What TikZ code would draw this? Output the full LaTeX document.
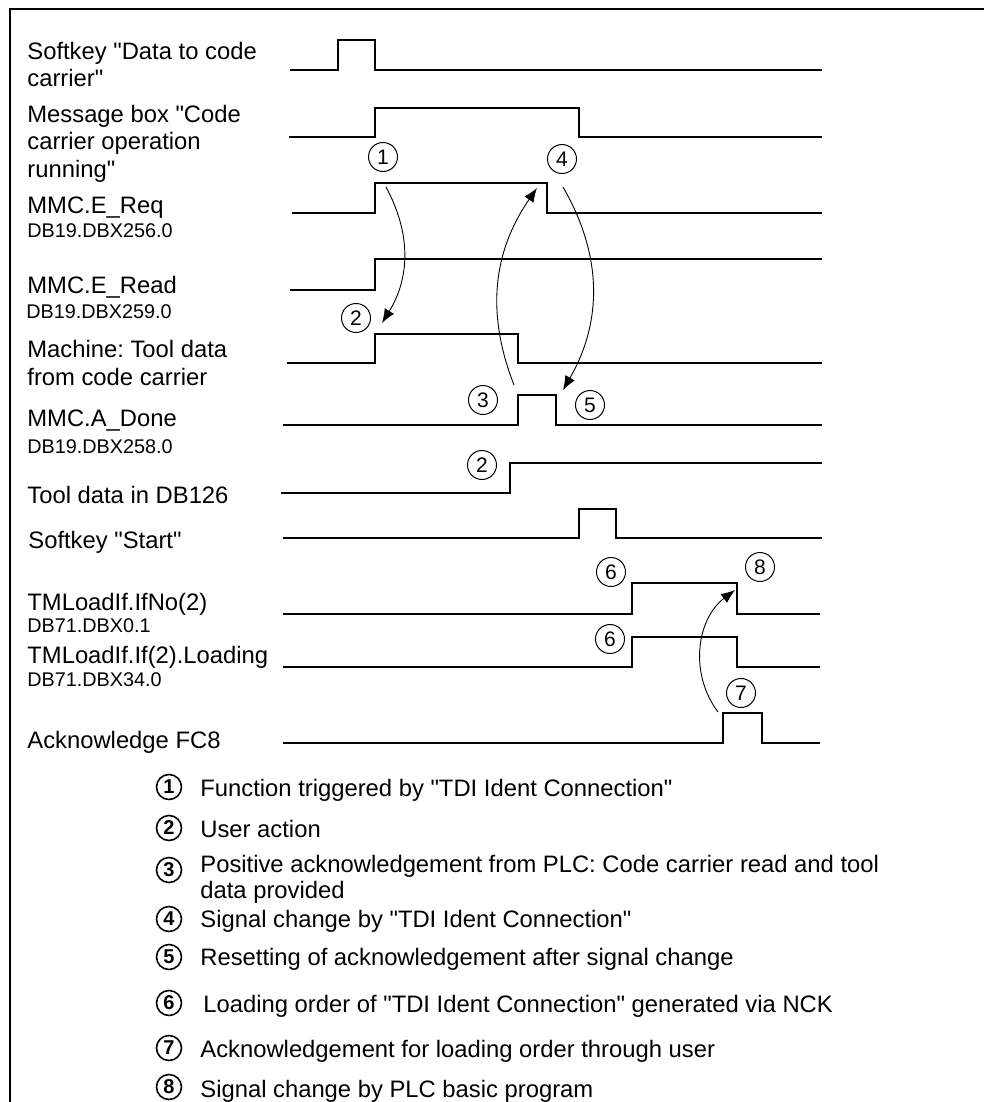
\documentclass[tikz,border=0pt]{standalone}
\usepackage{fontspec}
\newfontfamily\lsans{Liberation Sans}
\usetikzlibrary{arrows.meta}
\frenchspacing

\begin{document}
\begin{tikzpicture}[x=0.5pt,y=-0.5pt,
  sig/.style={line width=1pt,line join=miter},
  arr/.style={line width=0.45pt,-{Latex[length=7pt,width=5.5pt]}},
  lbl/.style={anchor=base west,inner sep=0pt,align=left,font=\lsans\fontsize{11.9}{13.6}\selectfont},
  addr/.style={anchor=base west,inner sep=0pt,font=\lsans\fontsize{9.9}{11}\selectfont},
  num/.style={draw,circle,line width=0.5pt,minimum size=14.5pt,inner sep=0pt,font=\lsans\fontsize{10.5}{11}\selectfont},
  legnum/.style={draw,circle,line width=0.8pt,minimum size=12.5pt,inner sep=0pt,font=\lsans\bfseries\fontsize{10}{11}\selectfont},
  legtxt/.style={anchor=base west,inner sep=0pt,align=left,font=\lsans\fontsize{11.9}{12.8}\selectfont}]
  \useasboundingbox (0,0) rectangle (984,1102);
  \draw[line width=1.3pt] (984,9) -- (10,9) -- (10,1102);

  \node[lbl] (lsoft) at (27,87){Softkey "Data to code\\carrier"};
  \node[lbl] (lmsg) at (27,177){Message box "Code\\carrier operation\\running"};
  \node[lbl] (lreq) at (27,213){MMC.E\_Req};
  \node[addr] (areq) at (27,237){DB19.DBX256.0};
  \node[lbl] (lread) at (27,293){MMC.E\_Read};
  \node[addr] (aread) at (26,318){DB19.DBX259.0};
  \node[lbl] (lmach) at (27,385){Machine: Tool data\\from code carrier};
  \node[lbl] (ldone) at (27,426){MMC.A\_Done};
  \node[addr] (adone) at (27,453){DB19.DBX258.0};
  \node[lbl] (ldb) at (27,503){Tool data in DB126};
  \node[lbl] (lstart) at (28,548){Softkey "Start"};
  \node[lbl] (lifno) at (27,610){TMLoadIf.IfNo(2)};
  \node[addr] (aifno) at (27,632){DB71.DBX0.1};
  \node[lbl] (lload) at (27,663){TMLoadIf.If(2).Loading};
  \node[addr] (aload) at (27,686){DB71.DBX34.0};
  \node[lbl] (lack) at (27,748){Acknowledge FC8};

  \draw[sig] (290,70) -- (338,70) -- (338,40) -- (375,40) -- (375,70) -- (822,70);
  \draw[sig] (289,137) -- (375,137) -- (375,108) -- (579,108) -- (579,137) -- (822,137);
  \draw[sig] (292,213) -- (375,213) -- (375,183) -- (547,183) -- (547,213) -- (822,213);
  \draw[sig] (290,290) -- (375,290) -- (375,259) -- (822,259);
  \draw[sig] (287,363) -- (375,363) -- (375,334) -- (518,334) -- (518,363) -- (822,363);
  \draw[sig] (283,425) -- (518,425) -- (518,395) -- (556,395) -- (556,425) -- (822,425);
  \draw[sig] (281,493) -- (510,493) -- (510,463) -- (822,463);
  \draw[sig] (283,538) -- (579,538) -- (579,509) -- (616,509) -- (616,538) -- (822,538);
  \draw[sig] (283,614) -- (632,614) -- (632,583) -- (737,583) -- (737,614) -- (820,614);
  \draw[sig] (283,667) -- (632,667) -- (632,637) -- (737,637) -- (737,667) -- (820,667);
  \draw[sig] (283,743) -- (723,743) -- (723,713) -- (762,713) -- (762,743) -- (820,743);

  \node[num] (n1) at (383,157){1};
  \node[num] (n4) at (562,159){4};
  \node[num] (n2a) at (356,318){2};
  \node[num] (n3) at (483,400){3};
  \node[num] (n5) at (590,405){5};
  \node[num] (n2b) at (482,465){2};
  \node[num] (n6a) at (611,572){6};
  \node[num] (n8) at (760,567){8};
  \node[num] (n6b) at (610,639){6};
  \node[num] (n7) at (741,693){7};

  \coordinate (reqhi) at (386,187);
  \coordinate (machhi) at (382,323);
  \coordinate (donehi) at (514,385);
  \coordinate (reqfall) at (537,188);
  \coordinate (reqlo) at (563,187);
  \coordinate (donefall) at (563,390);
  \coordinate (ackhi) at (718,712);
  \coordinate (ifnofall) at (735,590);
  \draw[arr] (reqhi) to[bend left=30] (machhi);
  \draw[arr] (donehi) to[bend left=28] (reqfall);
  \draw[arr] (reqlo) to[bend left=30] (donefall);
  \draw[arr] (ackhi) to[bend left=45] (ifnofall);

  \node[legnum] (k1) at (169,787){1};
  \node[legnum] (k2) at (169,828){2};
  \node[legnum] (k3) at (169,870){3};
  \node[legnum] (k4) at (169,919){4};
  \node[legnum] (k5) at (169,957){5};
  \node[legnum] (k6) at (169,1003){6};
  \node[legnum] (k7) at (169,1048){7};
  \node[legnum] (k8) at (169,1087){8};
  \node[legtxt] (t1) at (200,796){Function triggered by "TDI Ident Connection"};
  \node[legtxt] (t2) at (200,837){User action};
  \node[legtxt] (t3) at (200,898){Positive acknowledgement from PLC: Code carrier read and tool\\data provided};
  \node[legtxt] (t4) at (200,927){Signal change by "TDI Ident Connection"};
  \node[legtxt] (t5) at (200,965){Resetting of acknowledgement after signal change};
  \node[legtxt] (t6) at (203,1012){Loading order of "TDI Ident Connection" generated via NCK};
  \node[legtxt] (t7) at (200,1057){Acknowledgement for loading order through user};
  \node[legtxt] (t8) at (200,1097){Signal change by PLC basic program};
\end{tikzpicture}
\end{document}
